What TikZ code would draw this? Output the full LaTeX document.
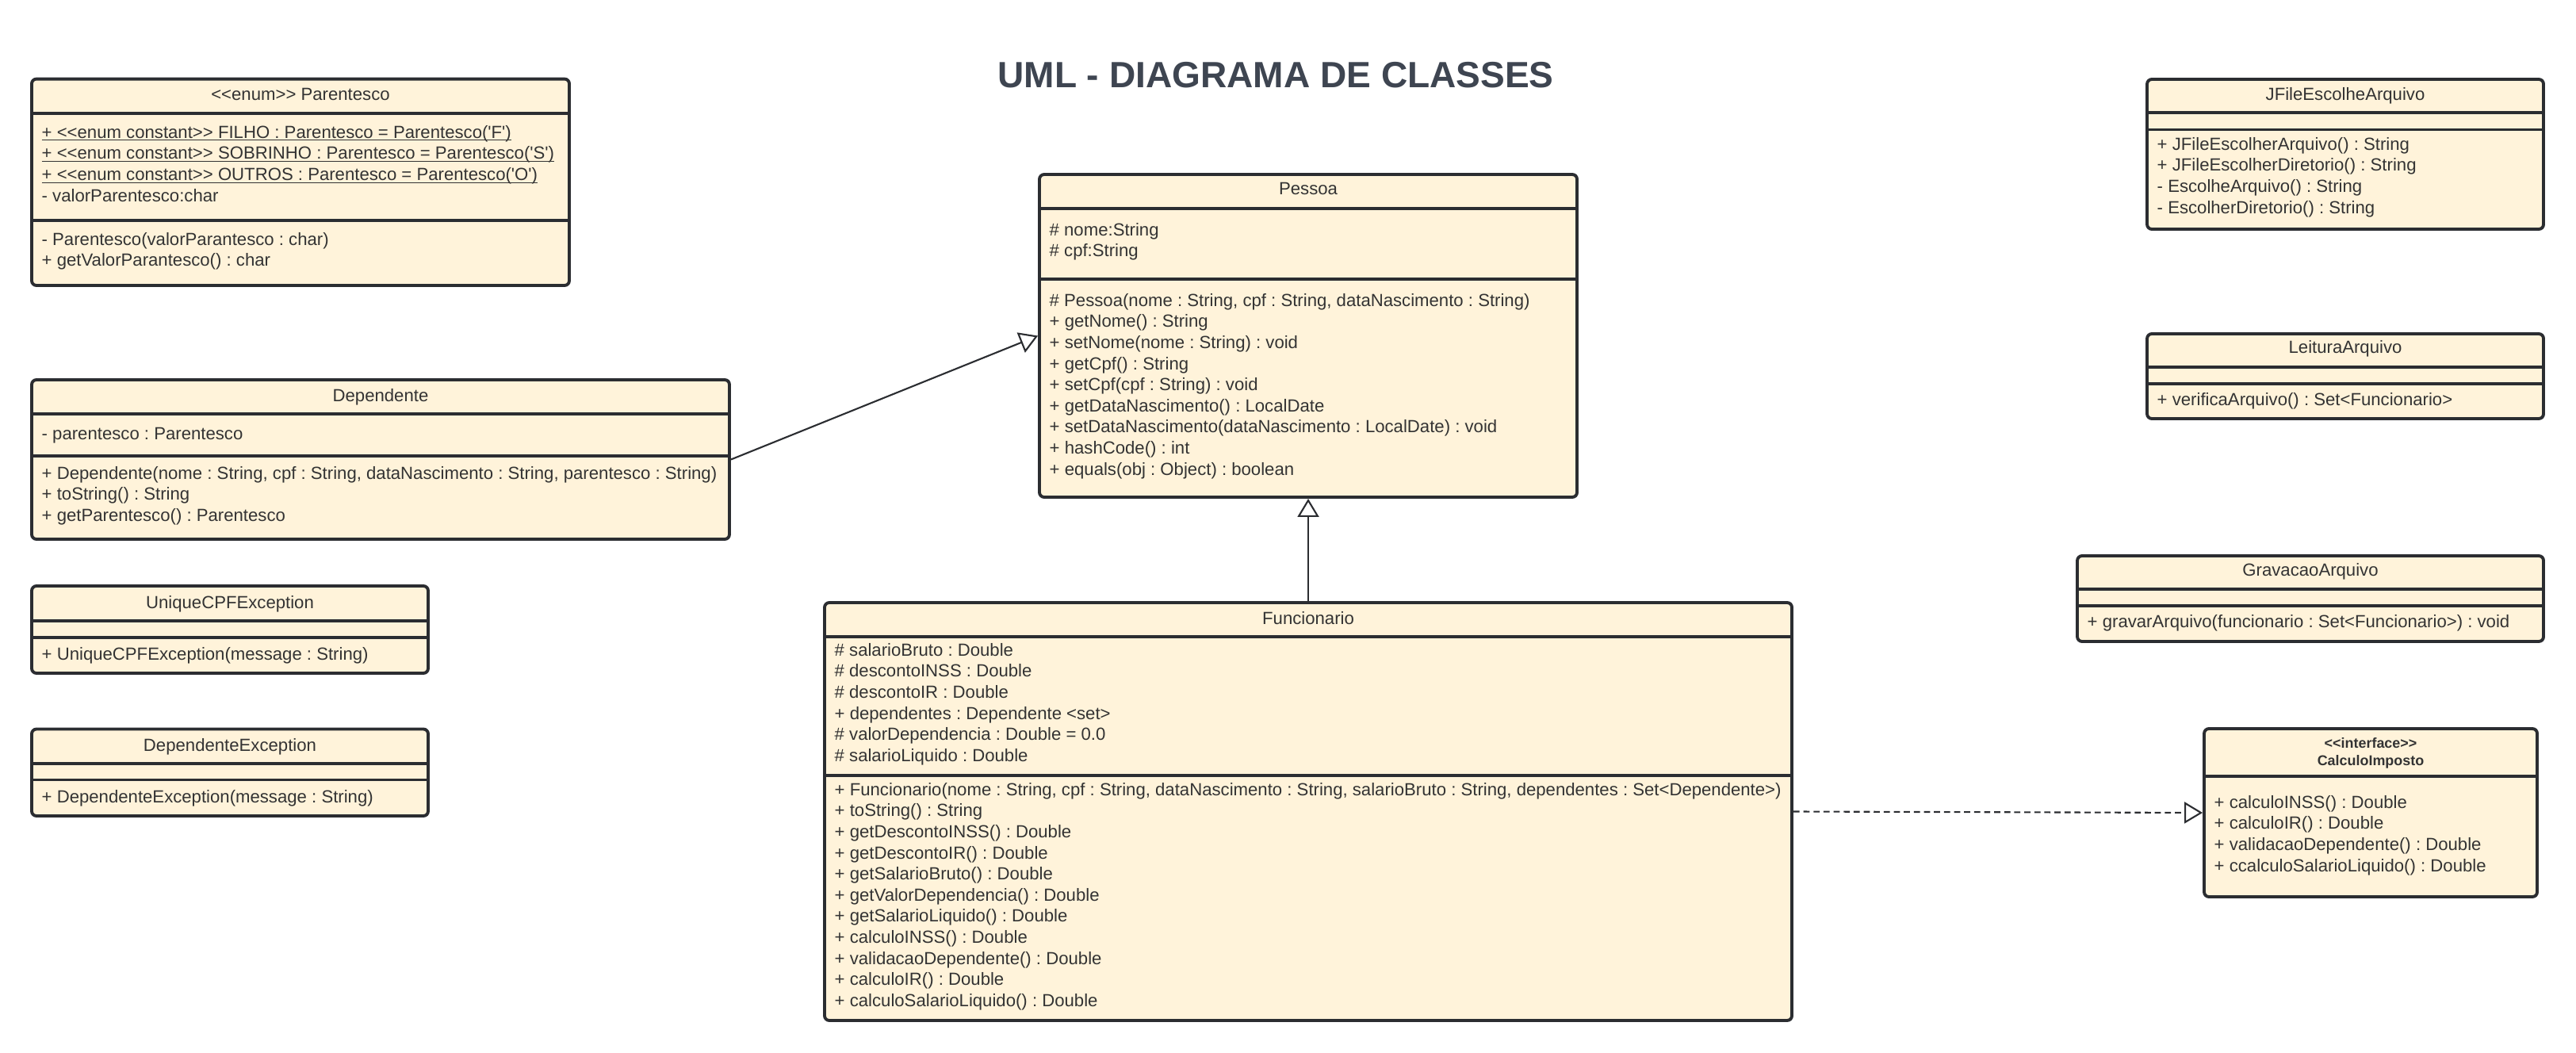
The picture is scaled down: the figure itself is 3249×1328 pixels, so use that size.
\documentclass[tikz,border=0pt]{standalone}
\usepackage{fontspec}
\setmainfont{Liberation Sans}[Ligatures=TeXOff]
\usetikzlibrary{arrows.meta,fit}

\definecolor{cream}{HTML}{FFF3DA}
\definecolor{edge}{HTML}{2B2D31}
\definecolor{ink}{HTML}{333333}
\definecolor{heading}{HTML}{3E4551}

\newcommand{\bodyfont}{\fontsize{6.3}{7.57}\selectfont}
\newcommand{\static}[1]{\setbox0=\hbox{#1}\rlap{\vrule width\wd0 height-0.6pt depth0.95pt}\box0}
\frenchspacing

\tikzset{
	classbox/.style={draw=edge, fill=cream, line width=1.1pt, rounded corners=1.7pt, inner sep=0pt},
	divider/.style={draw=edge, line width=1.1pt},
	classname/.style={anchor=base, inner sep=0pt, font=\bodyfont, text=ink},
	members/.style={anchor=north west, inner sep=0pt, align=left, font=\bodyfont, text=ink, execute at begin node=\strut},
	inherit/.style={draw=edge, line width=0.6pt, -{Triangle[length=0.23cm, width=0.27cm, fill=white]}},
	realize/.style={inherit, dash pattern=on 2.2pt off 1.4pt},
}

\begin{document}
\begin{tikzpicture}[x=0.01cm, y=-0.01cm]
	\fill [white] (0,0) rectangle (3249,1328);
	\useasboundingbox (0,0) rectangle (3249,1328);
	\node [anchor=base, inner sep=0pt, text=heading, font=\fontsize{13.1}{15}\selectfont\bfseries] (title) at (1609,110.7) {UML - DIAGRAMA DE CLASSES};

	\node [classbox, fit={(40,99.6) (718,360)}] (parentesco) {};
	\draw [divider] (parentesco.west |- 0,143) -- (parentesco.east |- 0,143);
	\draw [divider] (parentesco.west |- 0,277.6) -- (parentesco.east |- 0,277.6);
	\node [classname] at (379,127) {<<enum>> Parentesco};
	\node [members] at (52,157.4) {\static{+ <<enum constant>> FILHO : Parentesco = Parentesco('F')}
	\\ \static{+ <<enum constant>> SOBRINHO : Parentesco = Parentesco('S')}
	\\ \static{+ <<enum constant>> OUTROS : Parentesco = Parentesco('O')}
	\\ - valorParentesco:char};
	\node [members] at (52,292.4) {- Parentesco(valorParantesco : char)\\ + getValorParantesco() : char};

	\node [classbox, fit={(40,479) (920,680)}] (dependente) {};
	\draw [divider] (dependente.west |- 0,522) -- (dependente.east |- 0,522);
	\draw [divider] (dependente.west |- 0,575) -- (dependente.east |- 0,575);
	\node [classname] at (480,507) {Dependente};
	\node [members] at (52,535.4) {- parentesco : Parentesco};
	\node [members] at (52,587.4) {+ Dependente(nome : String, cpf : String, dataNascimento : String, parentesco : String)
	\\ + toString() : String
	\\ + getParentesco() : Parentesco};

	\node [classbox, fit={(40,739) (540,849)}] (uniquecpf) {};
	\draw [divider] (uniquecpf.west |- 0,783) -- (uniquecpf.east |- 0,783);
	\draw [divider] (uniquecpf.west |- 0,804) -- (uniquecpf.east |- 0,804);
	\node [classname] at (290,767) {UniqueCPFException};
	\node [members] at (52,813.4) {+ UniqueCPFException(message : String)};

	\node [classbox, fit={(40,919.5) (540,1029)}] (depexception) {};
	\draw [divider] (depexception.west |- 0,963) -- (depexception.east |- 0,963);
	\draw [divider] (depexception.west |- 0,983.5) -- (depexception.east |- 0,983.5);
	\node [classname] at (290,947) {DependenteException};
	\node [members] at (52,993.4) {+ DependenteException(message : String)};

	\node [classbox, fit={(1311,220) (1989,627)}] (pessoa) {};
	\draw [divider] (pessoa.west |- 0,263) -- (pessoa.east |- 0,263);
	\draw [divider] (pessoa.west |- 0,352) -- (pessoa.east |- 0,352);
	\node [classname] at (1650,246) {Pessoa};
	\node [members] at (1323,280.4) {\# nome:String\\ \# cpf:String};
	\node [members] at (1323,369.4) {\# Pessoa(nome : String, cpf : String, dataNascimento : String)
	\\ + getNome() : String
	\\ + setNome(nome : String) : void
	\\ + getCpf() : String
	\\ + setCpf(cpf : String) : void
	\\ + getDataNascimento() : LocalDate
	\\ + setDataNascimento(dataNascimento : LocalDate) : void
	\\ + hashCode() : int
	\\ + equals(obj : Object) : boolean};

	\node [classbox, fit={(1040,760) (2260,1287)}] (funcionario) {};
	\draw [divider] (funcionario.west |- 0,803) -- (funcionario.east |- 0,803);
	\draw [divider] (funcionario.west |- 0,978) -- (funcionario.east |- 0,978);
	\node [classname] at (1650,787) {Funcionario};
	\node [members] at (1052,810.4) {\# salarioBruto : Double
	\\ \# descontoINSS : Double
	\\ \# descontoIR : Double
	\\ + dependentes : Dependente <set>
	\\ \# valorDependencia : Double = 0.0
	\\ \# salarioLiquido : Double};
	\node [members] at (1052,986.4) {+ Funcionario(nome : String, cpf : String, dataNascimento : String, salarioBruto : String, dependentes : Set<Dependente>)
	\\ + toString() : String
	\\ + getDescontoINSS() : Double
	\\ + getDescontoIR() : Double
	\\ + getSalarioBruto() : Double
	\\ + getValorDependencia() : Double
	\\ + getSalarioLiquido() : Double
	\\ + calculoINSS() : Double
	\\ + validacaoDependente() : Double
	\\ + calculoIR() : Double
	\\ + calculoSalarioLiquido() : Double};

	\node [classbox, fit={(2708,100) (3208,289)}] (jfile) {};
	\draw [divider] (jfile.west |- 0,142) -- (jfile.east |- 0,142);
	\draw [divider] (jfile.west |- 0,163.5) -- (jfile.east |- 0,163.5);
	\node [classname] at (2958,127) {JFileEscolheArquivo};
	\node [members] at (2720,172.4) {+ JFileEscolherArquivo() : String
	\\ + JFileEscolherDiretorio() : String
	\\ - EscolheArquivo() : String
	\\ - EscolherDiretorio() : String};

	\node [classbox, fit={(2708,421) (3208,528)}] (leitura) {};
	\draw [divider] (leitura.west |- 0,463) -- (leitura.east |- 0,463);
	\draw [divider] (leitura.west |- 0,484) -- (leitura.east |- 0,484);
	\node [classname] at (2958,446) {LeituraArquivo};
	\node [members] at (2720,492.4) {+ verificaArquivo() : Set<Funcionario>};

	\node [classbox, fit={(2620,701) (3208,809)}] (gravacao) {};
	\draw [divider] (gravacao.west |- 0,743) -- (gravacao.east |- 0,743);
	\draw [divider] (gravacao.west |- 0,764) -- (gravacao.east |- 0,764);
	\node [classname] at (2914,726) {GravacaoArquivo};
	\node [members] at (2632,772.4) {+ gravarArquivo(funcionario : Set<Funcionario>) : void};

	\node [classbox, fit={(2780,919) (3200,1131)}] (calculo) {};
	\draw [divider] (calculo.west |- 0,979) -- (calculo.east |- 0,979);
	\node [classname, font=\fontsize{5.1}{6.3}\selectfont\bfseries] at (2990,943.4) {<<interface>>};
	\node [classname, font=\fontsize{5.1}{6.3}\selectfont\bfseries] at (2990,965.4) {CalculoImposto};
	\node [members] at (2792,1002.4) {+ calculoINSS() : Double
	\\ + calculoIR() : Double
	\\ + validacaoDependente() : Double
	\\ + ccalculoSalarioLiquido() : Double};

	\draw [inherit] (dependente.east) -- (pessoa.west);
	\draw [inherit] (funcionario.north) -- (pessoa.south);
	\draw [realize] (funcionario.east) -- (calculo.west);
\end{tikzpicture}
\end{document}
